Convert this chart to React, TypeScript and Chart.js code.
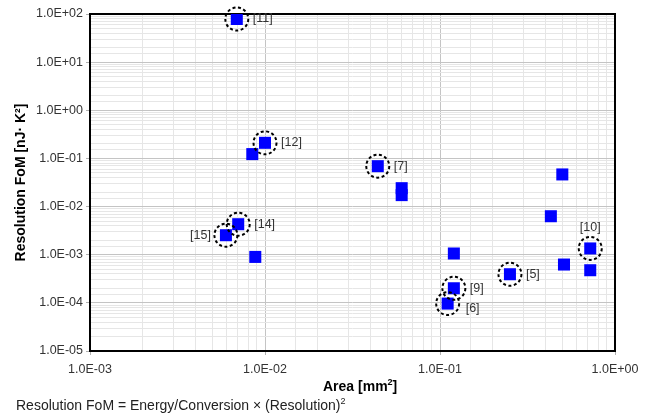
import React, { useEffect, useRef } from "react";
import { Chart, registerables } from "chart.js";

Chart.register(...registerables);

// Area [mm²]
const areas = [0.0069, 0.01, 0.00846, 0.00703, 0.00598, 0.0088, 0.0441, 0.0604, 0.0604, 0.5, 0.43, 0.722, 0.511, 0.722, 0.12, 0.251, 0.12, 0.1106];
// Resolution FoM [nJ·K²]
const foms = [78.7, 0.211, 0.123, 0.0043, 0.00254, 0.0009, 0.069, 0.0241, 0.0173, 0.0465, 0.0063, 0.00135, 0.000625, 0.000476, 0.00106, 0.000393, 0.000201, 0.0000966];
// Reference labels (empty = not highlighted)
const refLabels = ["[11]", "[12]", "", "[14]", "[15]", "", "[7]", "", "", "", "", "[10]", "", "", "", "[5]", "[9]", "[6]"];
// Label placement relative to the point
const labelSide = ["right", "right", "", "right", "left", "", "right", "", "", "", "", "above", "", "", "", "right", "right", "rightLow"];

const xMin = 1e-3, xMax = 1;
const yMin = 1e-5, yMax = 1e2;

const isPow10 = (v: number) => {
  const e = Math.log10(v);
  return Math.abs(e - Math.round(e)) < 1e-6;
};
const fmtE = (v: number) => {
  const e = Math.round(Math.log10(v));
  const a = Math.abs(e);
  return "1.0E" + (e >= 0 ? "+" : "-") + (a < 10 ? "0" + a : String(a));
};

const FONT = "'Liberation Sans', Arial, sans-serif";

const annotPlugin = {
  id: "annot",
  beforeDatasetsDraw(chart: any) {
    const { ctx, chartArea } = chart;
    ctx.save();
    ctx.strokeStyle = "#000";
    ctx.lineWidth = 2;
    ctx.strokeRect(chartArea.left, chartArea.top, chartArea.right - chartArea.left, chartArea.bottom - chartArea.top);
    ctx.restore();
  },
  afterDatasetsDraw(chart: any) {
    const { ctx } = chart;
    const xs = chart.scales.x;
    const ys = chart.scales.y;
    ctx.save();
    for (let i = 0; i < refLabels.length; i++) {
      if (!refLabels[i]) continue;
      const px = xs.getPixelForValue(areas[i]);
      const py = ys.getPixelForValue(foms[i]);
      ctx.beginPath();
      ctx.setLineDash([3, 2.5]);
      ctx.lineWidth = 2;
      ctx.strokeStyle = "#000";
      ctx.arc(px, py, 11.5, 0, Math.PI * 2);
      ctx.stroke();
      ctx.setLineDash([]);
      ctx.fillStyle = "#333";
      ctx.font = "12.5px " + FONT;
      const side = labelSide[i];
      ctx.textBaseline = "middle";
      if (side === "right") {
        ctx.textAlign = "left";
        ctx.fillText(refLabels[i], px + 16, py);
      } else if (side === "rightLow") {
        ctx.textAlign = "left";
        ctx.fillText(refLabels[i], px + 18, py + 5);
      } else if (side === "left") {
        ctx.textAlign = "right";
        ctx.fillText(refLabels[i], px - 15, py);
      } else if (side === "above") {
        ctx.textAlign = "center";
        ctx.fillText(refLabels[i], px, py - 21);
      }
    }
    ctx.restore();
  },
};

const gridColor = (c: any) => (c.tick && isPow10(c.tick.value) ? "#c4c4c4" : "#e6e6e6");
const tickMarkColor = (c: any) => (c.tick && isPow10(c.tick.value) ? "#b0b0b0" : "rgba(0,0,0,0)");

export default function App() {
  const ref = useRef<HTMLCanvasElement | null>(null);
  useEffect(() => {
    if (!ref.current) return;
    const chart = new Chart(ref.current, {
      type: "scatter",
      data: {
        datasets: [
          {
            data: areas.map((a, i) => ({ x: a, y: foms[i] })),
            pointStyle: "rect",
            pointRadius: 8.5,
            pointHoverRadius: 8.5,
            backgroundColor: "#0000ff",
            borderColor: "#0000ff",
            borderWidth: 0,
          },
        ],
      },
      options: {
        animation: false,
        responsive: true,
        maintainAspectRatio: false,
        layout: { padding: { left: 0, right: 36, top: 14, bottom: 20 } },
        plugins: { legend: { display: false }, tooltip: { enabled: false } },
        scales: {
          x: {
            type: "logarithmic",
            min: xMin,
            max: xMax,
            afterFit: (s: any) => { s.height = 45; },
            border: { display: false },
            grid: {
              drawTicks: true,
              tickLength: 4,
              color: gridColor,
              tickColor: tickMarkColor,
              lineWidth: 1,
            },
            ticks: {
              autoSkip: false,
              maxRotation: 0,
              padding: 7,
              color: "#333",
              font: { family: FONT, size: 12.5 },
              callback: (v: any) => (isPow10(Number(v)) ? fmtE(Number(v)) : ""),
            },
            title: { display: false },
          },
          y: {
            type: "logarithmic",
            min: yMin,
            max: yMax,
            afterFit: (s: any) => { s.width = 90; },
            border: { display: false },
            grid: {
              drawTicks: true,
              tickLength: 4,
              color: gridColor,
              tickColor: tickMarkColor,
              lineWidth: 1,
            },
            ticks: {
              autoSkip: false,
              padding: 3,
              color: "#333",
              font: { family: FONT, size: 12.5 },
              callback: (v: any) => (isPow10(Number(v)) ? fmtE(Number(v)) : ""),
            },
            title: {
              display: true,
              text: "Resolution FoM [nJ· K²]",
              color: "#000",
              font: { family: FONT, size: 14, weight: "bold" },
              padding: { top: 13, bottom: 0 },
            },
          },
        },
      },
      plugins: [annotPlugin],
    } as any);
    return () => chart.destroy();
  }, []);

  return (
    <div style={{ position: "fixed", left: 0, top: 0, width: 651, height: 416, background: "#fff" }}>
      <canvas ref={ref} />
      <div
        style={{
          position: "absolute",
          left: 323,
          top: 378,
          fontFamily: FONT,
          fontSize: 14,
          fontWeight: "bold",
          color: "#000",
          whiteSpace: "nowrap",
          lineHeight: "17px",
        }}
      >
        Area [mm<sup style={{ fontSize: 9, verticalAlign: "top", lineHeight: "9px" }}>2</sup>]
      </div>
      <div
        style={{
          position: "absolute",
          left: 16,
          top: 397,
          fontFamily: FONT,
          fontSize: 14,
          color: "#222",
          whiteSpace: "nowrap",
          lineHeight: "17px",
        }}
      >
        Resolution FoM = Energy/Conversion × (Resolution)<sup style={{ fontSize: 9, verticalAlign: "top", lineHeight: "9px" }}>2</sup>
      </div>
    </div>
  );
}
